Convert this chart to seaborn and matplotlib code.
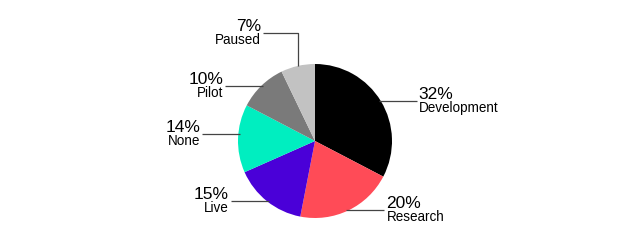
import numpy as np
import matplotlib
matplotlib.use("Agg")
import matplotlib.pyplot as plt
import seaborn as sns

categories = ["Development", "Research", "Live", "None", "Pilot", "Paused"]
shares = [32, 20, 15, 14, 10, 7]
pct_labels = ["32%", "20%", "15%", "14%", "10%", "7%"]
colors = ["#000000", "#ff4b57", "#4a00d8", "#00eec0", "#7a7a7a", "#c2c2c2"]

sns.set_theme(style="white")
plt.rcParams['font.family'] = ['Liberation Sans', 'DejaVu Sans']

W, H = 617, 241
fig = plt.figure(figsize=(W / 100, H / 100), dpi=100)
fig.patch.set_facecolor("white")
ax = fig.add_axes([0, 0, 1, 1])

cx, cy, r = 315, H - 141, 77
wedges, _ = ax.pie(shares, colors=sns.color_palette(colors), startangle=90,
                   counterclock=False, center=(cx, cy), radius=r,
                   wedgeprops=dict(linewidth=0))
ax.set_xlim(0, W)
ax.set_ylim(0, H)
ax.set_aspect('auto')
ax.axis('off')

line_kw = dict(color="#444444", lw=0.9, solid_capstyle='butt')
dy_tweak = [0, 0, 0, 5, 0, 0]
LEN = 36
for i, w in enumerate(wedges):
    mid = np.deg2rad((w.theta1 + w.theta2) / 2)
    axp = cx + r * np.cos(mid)
    ayp = cy + r * np.sin(mid)
    side = 1 if np.cos(mid) > 0 else -1
    if categories[i] == "Paused":
        ytop = ayp + 33
        xend = axp - 35
        ax.plot([axp, axp, xend], [ayp, ytop, ytop], **line_kw)
        ly = ytop
    else:
        ly = ayp + dy_tweak[i]
        ex = cx + side * np.sqrt(max(r ** 2 - (ly - cy) ** 2, 0))
        xend = ex + side * LEN
        ax.plot([ex - side * 2, xend], [ly, ly], **line_kw)
    tx = xend + side * 2
    ha = 'left' if side > 0 else 'right'
    ax.text(tx, ly + 2, pct_labels[i], ha=ha, va='baseline', fontsize=12.5, color="black")
    ax.text(tx, ly - 11, categories[i], ha=ha, va='baseline', fontsize=9.75, color="black")

fig.savefig("out.png", dpi=100, facecolor="white")
